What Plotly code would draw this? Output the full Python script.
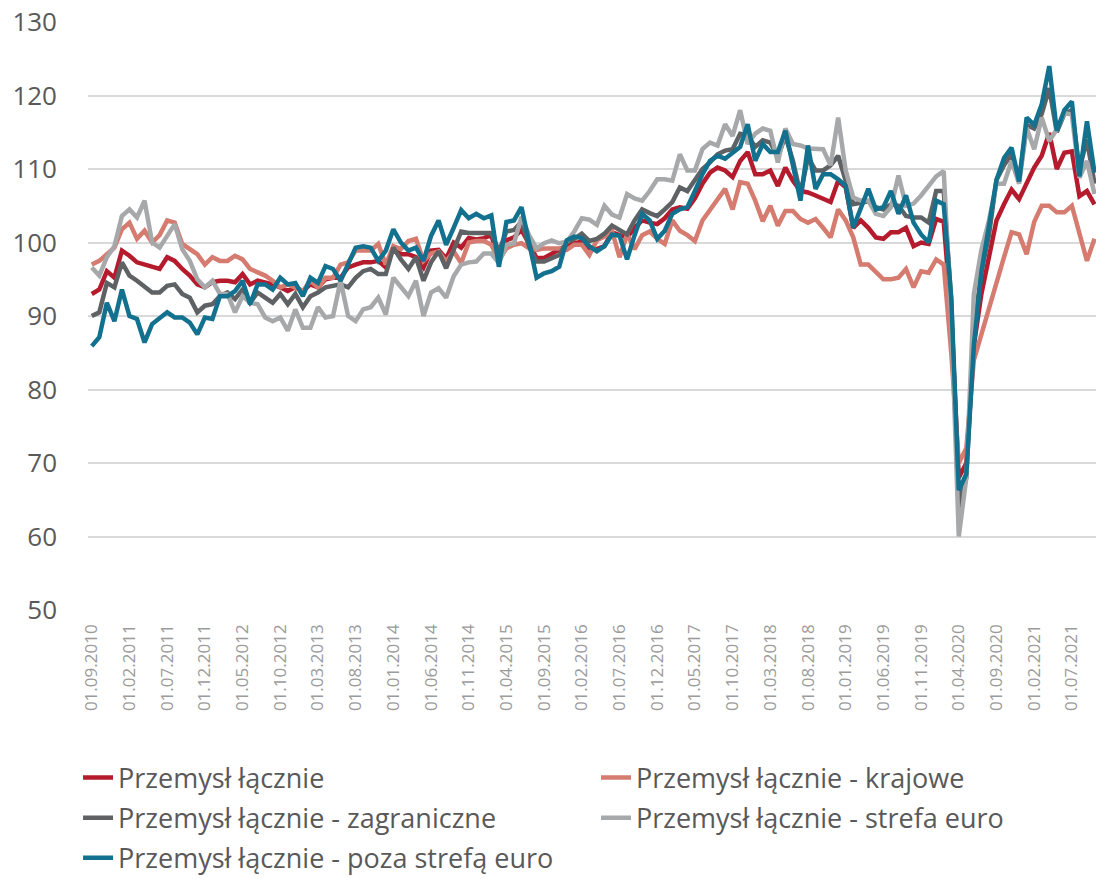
import pandas as pd
import plotly.graph_objects as go

months = pd.date_range("2010-09-01", periods=134, freq="MS")
labels = [d.strftime("%d.%m.%Y") for d in months]

total = [93.0, 93.6, 96.1, 95.2, 98.9, 98.2, 97.3, 97.0, 96.6, 96.4,
         98.0, 97.5, 96.4, 95.5, 94.3, 93.9, 94.6, 94.8, 94.8, 94.6,
         95.7, 94.3, 94.8, 94.6, 94.3, 93.9, 93.4, 93.9, 93.4, 94.3,
         93.9, 95.0, 95.2, 95.2, 96.6, 97.0, 97.3, 97.3, 97.5, 96.6,
         99.3, 98.4, 98.4, 98.0, 96.6, 98.9, 99.0, 97.8, 100.0, 99.3,
         100.6, 100.4, 100.6, 101.0, 97.4, 100.3, 100.7, 101.7, 99.8, 97.9,
         97.9, 98.5, 99.0, 99.6, 99.9, 100.1, 99.2, 99.1, 99.5, 101.4,
         101.0, 100.7, 102.0, 103.0, 102.7, 102.5, 103.3, 104.5, 104.8, 104.6,
         106.0, 108.0, 109.5, 110.2, 109.8, 108.9, 111.1, 112.3, 109.3, 109.3,
         109.8, 107.7, 110.2, 108.4, 107.0, 106.8, 106.4, 105.9, 105.5, 108.4,
         107.5, 102.0, 103.0, 102.0, 100.7, 100.5, 101.4, 101.4, 102.0, 99.5,
         100.0, 99.8, 103.2, 102.8, 90.0, 68.0, 70.0, 86.0, 93.0, 98.0,
         103.0, 105.2, 107.2, 105.9, 108.1, 110.2, 111.8, 114.9, 110.0, 112.2,
         112.4, 106.3, 107.0, 105.2]

domestic = [97.0, 97.5, 98.4, 99.3, 101.8, 102.7, 100.5, 101.6, 100.0, 101.0,
            103.0, 102.7, 99.8, 99.1, 98.4, 97.0, 98.0, 97.5, 97.5, 98.2,
            97.7, 96.4, 95.9, 95.5, 94.8, 93.9, 94.3, 93.9, 93.4, 94.8,
            93.9, 95.2, 95.2, 97.0, 97.3, 98.9, 98.9, 98.9, 99.8, 97.0,
            99.5, 99.1, 100.2, 100.5, 97.5, 98.5, 98.8, 97.4, 98.8, 97.2,
            100.0, 100.2, 100.2, 99.7, 97.6, 99.2, 99.7, 99.9, 99.2, 99.0,
            99.2, 99.2, 99.2, 99.0, 99.7, 99.7, 98.3, 100.3, 100.8, 101.6,
            98.0, 101.1, 99.1, 101.0, 101.5, 100.5, 99.8, 103.0, 101.6, 101.0,
            100.2, 103.0, 104.5, 106.0, 107.3, 104.5, 108.2, 108.0, 105.7, 102.9,
            105.0, 102.3, 104.3, 104.3, 103.2, 102.7, 103.2, 102.0, 100.7, 104.5,
            103.0, 100.7, 97.0, 97.0, 96.1, 95.0, 95.0, 95.2, 96.4, 93.9,
            96.1, 95.9, 97.7, 97.0, 85.0, 70.0, 72.0, 84.0, 87.5, 91.0,
            95.0, 98.0, 101.4, 101.1, 98.4, 102.8, 105.0, 105.0, 104.1, 104.1,
            105.0, 101.4, 97.5, 100.5]

foreign = [90.0, 90.5, 94.5, 93.9, 97.3, 95.5, 94.8, 93.9, 93.2, 93.2,
           94.1, 94.3, 93.0, 92.5, 90.5, 91.4, 91.6, 92.7, 93.2, 92.3,
           93.6, 91.8, 93.2, 92.5, 91.8, 93.0, 91.6, 93.0, 91.2, 92.7,
           93.2, 93.9, 94.1, 94.3, 93.9, 95.2, 96.1, 96.4, 95.7, 95.7,
           99.3, 97.7, 96.4, 98.0, 94.8, 97.3, 98.8, 96.5, 99.0, 101.5,
           101.3, 101.3, 101.3, 101.3, 98.8, 101.5, 101.7, 102.8, 99.5, 97.4,
           97.4, 97.8, 98.3, 100.0, 100.5, 101.2, 100.2, 100.5, 101.2, 102.3,
           101.7, 101.1, 103.0, 104.5, 104.0, 103.6, 104.5, 105.5, 107.5, 107.0,
           108.5, 110.0, 110.9, 112.0, 112.5, 112.7, 114.8, 114.6, 113.0, 113.9,
           113.6, 111.6, 114.5, 111.1, 106.6, 111.6, 109.8, 109.8, 110.5, 111.8,
           108.4, 105.2, 105.4, 105.6, 104.8, 104.5, 105.2, 105.0, 103.6, 103.4,
           103.4, 102.7, 107.0, 107.0, 92.0, 64.0, 68.0, 88.0, 96.0, 101.0,
           108.5, 110.5, 112.0, 108.5, 116.0, 115.5, 117.5, 121.0, 115.0, 117.5,
           118.0, 110.0, 114.0, 108.0]

euro_area = [96.6, 95.5, 98.0, 99.5, 103.6, 104.5, 103.4, 105.7, 100.0, 99.3,
             100.9, 102.5, 99.1, 97.5, 95.0, 93.9, 94.8, 93.0, 93.0, 90.5,
             92.7, 91.8, 91.6, 89.8, 89.3, 89.8, 88.0, 90.9, 88.4, 88.4,
             91.2, 89.8, 90.0, 94.8, 90.0, 89.3, 90.9, 91.2, 92.5, 90.2,
             95.2, 93.9, 92.7, 94.8, 90.0, 93.2, 93.8, 92.5, 95.4, 97.0,
             97.3, 97.4, 98.5, 98.5, 97.2, 99.7, 99.9, 103.5, 101.0, 99.2,
             99.9, 100.3, 99.9, 100.1, 101.5, 103.3, 103.1, 102.4, 105.0, 103.8,
             103.4, 106.6, 106.0, 105.7, 107.0, 108.6, 108.6, 108.4, 112.0, 109.8,
             109.8, 112.7, 113.6, 113.2, 116.1, 114.5, 118.0, 113.4, 114.8, 115.5,
             115.2, 110.9, 115.5, 113.4, 113.2, 112.8, 112.7, 112.7, 110.5, 117.0,
             109.8, 106.1, 105.7, 105.7, 103.9, 103.6, 104.8, 109.1, 105.0, 105.3,
             106.4, 107.7, 109.0, 109.7, 90.0, 60.0, 68.0, 93.0, 99.0, 103.0,
             108.0, 108.0, 111.1, 108.0, 115.6, 112.7, 117.0, 113.8, 115.4, 117.6,
             117.4, 108.8, 111.1, 106.6]

non_euro = [85.9, 87.1, 91.8, 89.3, 93.6, 90.0, 89.6, 86.4, 88.9, 89.8,
            90.5, 89.8, 89.8, 89.1, 87.5, 89.8, 89.6, 92.7, 92.7, 93.4,
            94.8, 91.6, 94.3, 94.3, 93.6, 95.2, 94.3, 94.5, 92.7, 95.2,
            94.5, 96.8, 96.4, 94.8, 97.0, 99.3, 99.5, 99.3, 97.5, 98.9,
            101.8, 100.0, 98.9, 99.3, 97.5, 100.9, 103.0, 99.7, 102.0, 104.4,
            103.3, 103.9, 103.3, 103.7, 96.7, 102.8, 103.0, 104.8, 100.0, 95.2,
            95.8, 96.1, 96.7, 100.3, 100.8, 100.6, 99.5, 98.8, 99.5, 101.1,
            100.9, 97.7, 101.0, 103.9, 103.0, 100.5, 101.6, 103.9, 104.5, 104.8,
            107.0, 109.3, 111.1, 111.8, 111.4, 112.3, 113.0, 116.1, 111.1, 113.4,
            112.3, 112.3, 115.2, 110.5, 105.7, 113.2, 107.3, 109.3, 109.3, 108.6,
            107.7, 102.0, 104.5, 107.3, 104.5, 104.8, 107.0, 103.9, 106.4, 102.7,
            101.1, 100.0, 105.7, 105.2, 92.5, 66.3, 68.5, 86.0, 96.0, 102.0,
            108.5, 111.5, 112.9, 108.3, 117.0, 116.0, 118.8, 124.0, 115.2, 118.0,
            119.2, 109.0, 116.5, 109.5]

series_names = ["Przemysł łącznie", "Przemysł łącznie - krajowe",
                "Przemysł łącznie - zagraniczne", "Przemysł łącznie - strefa euro",
                "Przemysł łącznie - poza strefą euro"]
series_values = [total, domestic, foreign, euro_area, non_euro]
series_colors = ["#B51B2D", "#D57B6F", "#5F6264", "#A6A8AA", "#12718F"]
legend_column = ["legend", "legend2", "legend", "legend2", "legend"]

y_ticks = [50, 60, 70, 80, 90, 100, 110, 120, 130]
x_tick_labels = labels[::5]

fig = go.Figure()
for k, (name, vals, col, lg) in enumerate(zip(series_names, series_values,
                                               series_colors, legend_column)):
    fig.add_trace(go.Scatter(x=labels, y=vals, name=name, mode="lines",
                             legend=lg, legendgroup="g%d" % k,
                             line=dict(color=col, width=4.5)))

font_family = "Open Sans, Liberation Sans, sans-serif"
legend_common = dict(orientation="v", xref="container", yref="container",
                     xanchor="left", y=0.1428, yanchor="top",
                     font=dict(size=27, color="#595959"),
                     tracegroupgap=2, itemwidth=30, traceorder="grouped",
                     bgcolor="rgba(0,0,0,0)")
fig.update_layout(
    width=1096, height=879,
    margin=dict(l=88, r=0, t=22, b=269, autoexpand=False),
    plot_bgcolor="white", paper_bgcolor="white",
    font=dict(family=font_family, color="#595959"),
    showlegend=True,
    legend=dict(x=0.0712, **legend_common),
    legend2=dict(x=0.5438, **legend_common),
)
fig.update_xaxes(type="category", range=[-0.5, 133.2], automargin=False,
                 tickmode="array", tickvals=x_tick_labels, ticktext=x_tick_labels,
                 tickangle=-90, tickfont=dict(size=17, color="#9B9B9B"),
                 ticklabelstandoff=10,
                 showgrid=False, showline=False, zeroline=False, ticks="")
fig.update_yaxes(range=[50, 130], tickmode="array", tickvals=y_ticks, automargin=False,
                 tickfont=dict(size=26, color="#595959"), ticklabeloverflow="allow",
                 showgrid=True, gridcolor="#D9D9D9", gridwidth=1.5,
                 zeroline=False, showline=False, ticks="", ticklabelstandoff=30)

fig.write_html("out.html",
               config={"displayModeBar": False},
               post_script="document.body.style.margin='0';"
                           "document.body.style.overflow='hidden';")
